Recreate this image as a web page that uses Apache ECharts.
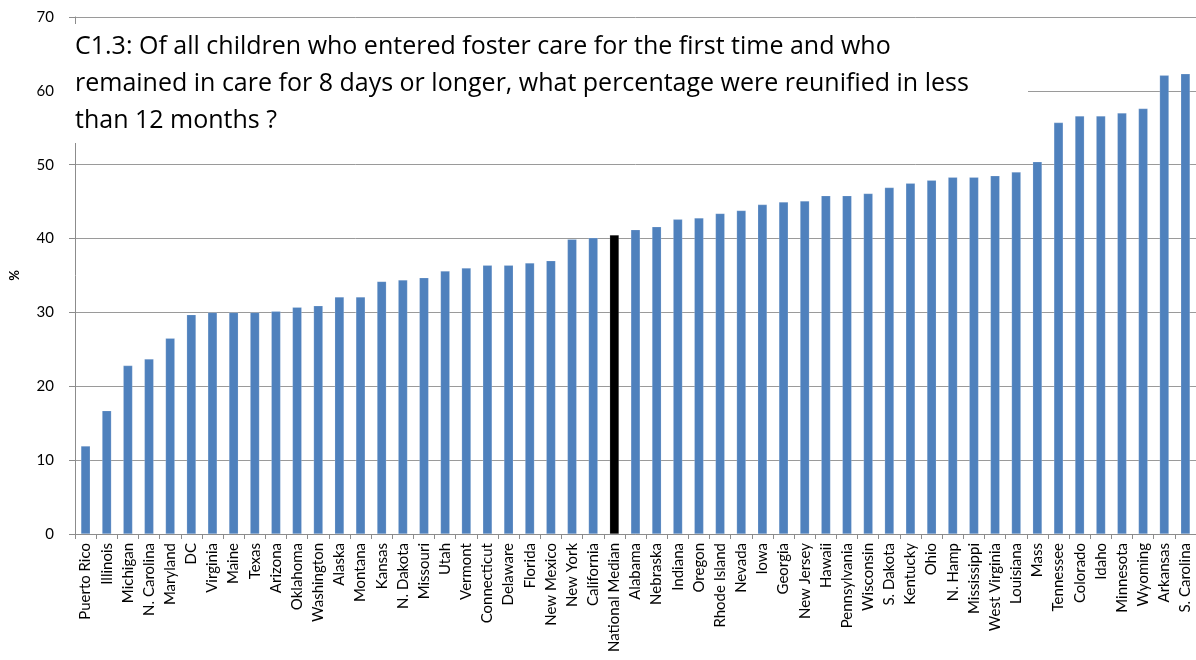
<!DOCTYPE html>
<html>
<head>
<meta charset="utf-8">
<script src="https://cdn.jsdelivr.net/npm/echarts@6/dist/echarts.min.js"></script>
<style>
  html, body { margin: 0; padding: 0; background: #fff; }
  #chart { width: 1196px; height: 660px; }
</style>
</head>
<body>
<div id="chart"></div>
<script>
// Reunification within 12 months, by state (%)
const states = [
  'Puerto Rico', 'Illinois', 'Michigan', 'N. Carolina', 'Maryland', 'DC', 'Virginia', 'Maine',
  'Texas', 'Arizona', 'Oklahoma', 'Washington', 'Alaska', 'Montana', 'Kansas', 'N. Dakota',
  'Missouri', 'Utah', 'Vermont', 'Connecticut', 'Delaware', 'Florida', 'New Mexico', 'New York',
  'California', 'National Median', 'Alabama', 'Nebraska', 'Indiana', 'Oregon', 'Rhode Island',
  'Nevada', 'Iowa', 'Georgia', 'New Jersey', 'Hawaii', 'Pennsylvania', 'Wisconsin', 'S. Dakota',
  'Kentucky', 'Ohio', 'N. Hamp', 'Mississippi', 'West Virginia', 'Louisiana', 'Mass', 'Tennessee',
  'Colorado', 'Idaho', 'Minnesota', 'Wyoming', 'Arkansas', 'S. Carolina'
];
const percentReunified = [
  11.9, 16.7, 22.8, 23.7, 26.5, 29.7, 30.0, 30.0,
  30.0, 30.15, 30.7, 30.9, 32.1, 32.1, 34.2, 34.4,
  34.7, 35.6, 36.0, 36.4, 36.4, 36.7, 37.0, 39.9,
  40.1, 40.5, 41.2, 41.6, 42.6, 42.8, 43.4,
  43.8, 44.6, 44.95, 45.1, 45.8, 45.8, 46.1, 46.9,
  47.5, 47.9, 48.3, 48.3, 48.5, 49.0, 50.4, 55.7,
  56.6, 56.6, 57.0, 57.6, 62.1, 62.3
];
const highlightCategory = 'National Median';
const yTicks = { min: 0, max: 70, interval: 10 };
const titleLines = [
  'C1.3: Of all children who entered foster care for the first time and who',
  'remained in care for 8 days or longer, what percentage were reunified in less',
  'than 12 months ?'
];

const FONT = 'Lato, "Open Sans", sans-serif';
const TITLE_FONT = '"Open Sans", Lato, sans-serif';
const barData = states.map((s, i) => ({
  value: percentReunified[i],
  itemStyle: { color: s === highlightCategory ? '#000000' : '#4F81BD' }
}));

const chart = echarts.init(document.getElementById('chart'), null, { renderer: 'canvas' });
chart.setOption({
  animation: false,
  backgroundColor: '#ffffff',
  textStyle: { fontFamily: FONT },
  grid: { left: 70, right: -7, top: 17, bottom: 126, containLabel: false },
  xAxis: {
    type: 'category',
    data: states,
    boundaryGap: true,
    axisLine: { show: true, lineStyle: { color: '#8c8c8c', width: 1 } },
    axisTick: { show: true, alignWithLabel: false, length: 5, lineStyle: { color: '#8c8c8c' } },
    axisLabel: { interval: 0, rotate: 90, fontSize: 15, color: '#000', fontFamily: FONT, margin: 9 }
  },
  yAxis: {
    type: 'value',
    min: yTicks.min, max: yTicks.max, interval: yTicks.interval,
    name: '%',
    nameLocation: 'middle',
    nameGap: 54,
    nameRotate: 90,
    nameTextStyle: { fontSize: 13, fontWeight: 'bold', color: '#000', fontFamily: FONT },
    axisLine: { show: true, lineStyle: { color: '#8c8c8c', width: 1 } },
    axisTick: { show: true, inside: false, length: 6, lineStyle: { color: '#8c8c8c' } },
    axisLabel: { fontSize: 15, color: '#000', fontFamily: FONT, margin: 21 },
    splitLine: { show: true, lineStyle: { color: '#9a9a9a', width: 1 } }
  },
  series: [{
    type: 'bar',
    data: barData,
    barWidth: '44%',
    itemStyle: { borderColor: 'rgba(255,255,255,0.35)', borderWidth: 0.5 }
  }],
  graphic: [
    {
      type: 'rect',
      x: 68, y: 24,
      z: 100,
      shape: { x: 0, y: 0, width: 960, height: 119 },
      style: { fill: '#ffffff', stroke: null }
    },
    {
      type: 'text',
      x: 75, y: 28,
      z: 101,
      style: {
        text: titleLines.join('\n'),
        font: '25px ' + TITLE_FONT,
        fill: '#000',
        lineHeight: 37
      }
    }
  ]
});
</script>
</body>
</html>
